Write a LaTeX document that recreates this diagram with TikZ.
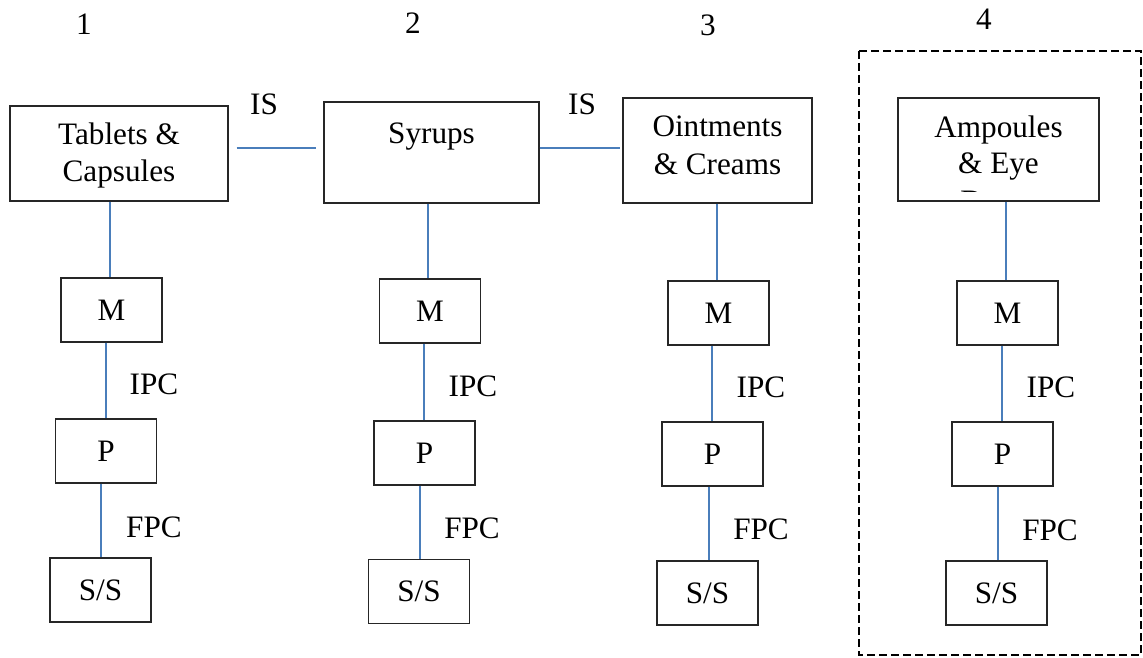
\documentclass[tikz,border=0pt]{standalone}
\usepackage{fontspec}
\setmainfont{Liberation Serif}
\usetikzlibrary{calc}
\definecolor{linkblue}{RGB}{74,126,187}
\definecolor{boxline}{RGB}{38,38,38}
\newcommand\diagfont{\fontsize{15.6pt}{18.5pt}\selectfont}
\begin{document}
\begin{tikzpicture}[x=0.5pt,y=-0.5pt,
  box/.style={draw=boxline, line width=0.65pt, rectangle, inner sep=0pt},
  small/.style={box, minimum width=50.5pt, minimum height=32pt, font=\diagfont},
  conn/.style={draw=linkblue, line width=0.7pt},
  lbl/.style={inner sep=0pt, anchor=base, font=\diagfont},
  groupframe/.style={draw=black, line width=0.65pt, dash pattern=on 3.8pt off 2.2pt}
]
\useasboundingbox (0,0) rectangle (1143,657);

% column headers
\node[lbl] (n1) at (84,35) {1};
\node[lbl] (n2) at (413,34) {2};
\node[lbl] (n3) at (708,36) {3};
\node[lbl] (n4) at (984,30) {4};

% group frame
\draw[groupframe] (859,51) rectangle (1141,655);

% top boxes
\node[box, minimum width=109pt, minimum height=47.5pt] (tab) at (119,153.5) {};
\node[lbl] (tabA) at (119,144.5) {Tablets \&};
\node[lbl] (tabB) at (119,181.5) {Capsules};

\node[box, minimum width=107.5pt, minimum height=50.5pt] (syr) at (431.5,152.5) {};
\node[lbl] (syrA) at (431.5,143.5) {Syrups};

\node[box, minimum width=94.5pt, minimum height=52.5pt] (oint) at (717.5,150.5) {};
\node[lbl] (ointA) at (717.5,136.7) {Ointments};
\node[lbl] (ointB) at (717.5,175) {\& Creams};

\node[box, minimum width=100.5pt, minimum height=51.5pt] (amp) at (998.5,149.5) {};
\node[lbl] (ampA) at (998.5,137.3) {Ampoules};
\node[lbl] (ampB) at (998.5,174) {\& Eye};
\begin{scope}
  \clip (898,98) rectangle (1099,192);
  \node[lbl] (ampC) at (998.5,212) {Drops};
\end{scope}

% stage boxes
\node[small] (m1) at (111.5,310) {M};
\node[small] (p1) at (106,451) {P};
\node[small] (s1) at (100.5,590) {S/S};
\node[small] (m2) at (430,311) {M};
\node[small] (p2) at (424.5,453) {P};
\node[small] (s2) at (419,591.5) {S/S};
\node[small] (m3) at (718.5,313) {M};
\node[small] (p3) at (712.5,454) {P};
\node[small] (s3) at (707.5,593) {S/S};
\node[small] (m4) at (1007.5,313) {M};
\node[small] (p4) at (1002.5,454) {P};
\node[small] (s4) at (996.5,593) {S/S};

% IS connectors
\draw[conn] ($(tab.east)+(8,-5.5)$) -- ($(syr.west)+(-7,-4.5)$);
\draw[conn] ($(syr.east)+(0,-4.5)$) -- ($(oint.west)+(-2,-2.5)$);
\node[lbl] (is1) at (264,114.3) {IS};
\node[lbl] (is2) at (582,114.3) {IS};

% vertical connectors
\draw[conn] ($(tab.south)+(-9,0)$) -- ($(m1.north)+(-1.5,0)$);
\draw[conn] ($(m1.south)+(-5.5,0)$) -- (p1.north);
\draw[conn] ($(p1.south)+(-5,0)$) -- ($(s1.north)+(0.5,0)$);

\draw[conn] ($(syr.south)+(-3.5,0)$) -- ($(m2.north)+(-2,0)$);
\draw[conn] ($(m2.south)+(-6,0)$) -- ($(p2.north)+(-0.5,0)$);
\draw[conn] ($(p2.south)+(-4.5,0)$) -- ($(s2.north)+(1,0)$);

\draw[conn] ($(oint.south)+(-0.5,0)$) -- ($(m3.north)+(-1.5,0)$);
\draw[conn] ($(m3.south)+(-6.5,0)$) -- ($(p3.north)+(-0.5,0)$);
\draw[conn] ($(p3.south)+(-3.5,0)$) -- ($(s3.north)+(1.5,0)$);

\draw[conn] ($(amp.south)+(7.5,0)$) -- ($(m4.north)+(-1.5,0)$);
\draw[conn] ($(m4.south)+(-5.5,0)$) -- ($(p4.north)+(-0.5,0)$);
\draw[conn] ($(p4.south)+(-4.5,0)$) -- ($(s4.north)+(1.5,0)$);

% control labels
\node[lbl] (ipc1) at (154,394) {IPC};
\node[lbl] (fpc1) at (154,537) {FPC};
\node[lbl] (ipc2) at (473,396) {IPC};
\node[lbl] (fpc2) at (472,538) {FPC};
\node[lbl] (ipc3) at (761,397) {IPC};
\node[lbl] (fpc3) at (761,539) {FPC};
\node[lbl] (ipc4) at (1051,397) {IPC};
\node[lbl] (fpc4) at (1050,540) {FPC};
\end{tikzpicture}
\end{document}
